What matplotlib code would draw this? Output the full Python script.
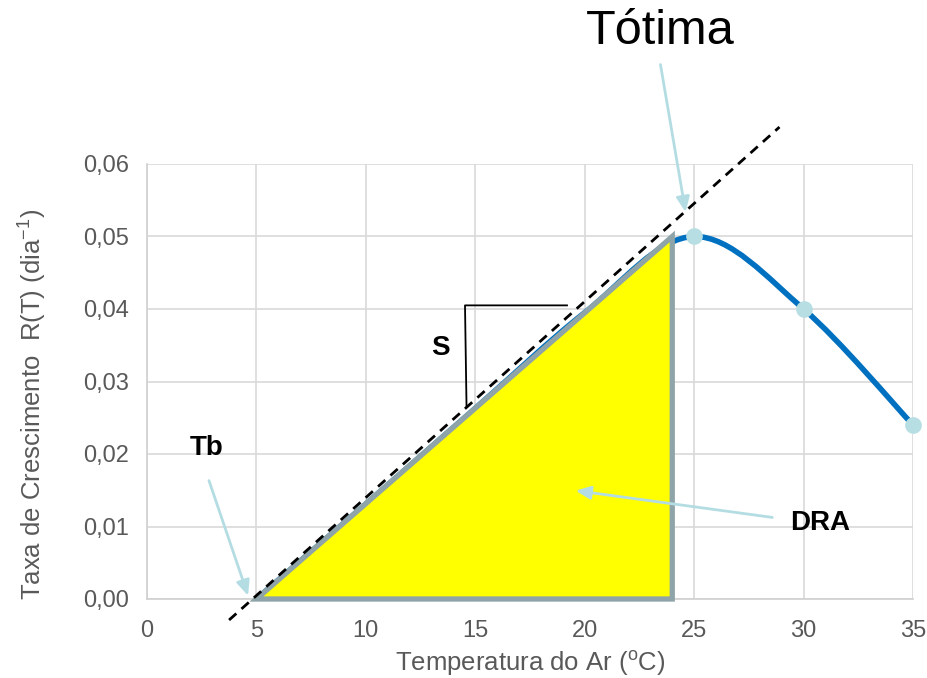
import matplotlib
matplotlib.use("Agg")
import matplotlib.pyplot as plt
from matplotlib.path import Path
from matplotlib.patches import PathPatch, Polygon
import numpy as np

plt.rcParams['font.family'] = ['Liberation Sans', 'DejaVu Sans']
plt.rcParams['mathtext.fontset'] = 'custom'
plt.rcParams['mathtext.rm'] = 'Liberation Sans'
plt.rcParams['mathtext.it'] = 'Liberation Sans:italic'

# data
curve_x = [5, 10, 15, 20, 25, 30, 35]
curve_y = [0.0, 0.0131, 0.0263, 0.0395, 0.050, 0.040, 0.024]
marker_x = [25, 30, 35]
marker_y = [0.050, 0.040, 0.024]
tri_x = [5, 24, 24]
tri_y = [0.0, 0.05, 0.0]
dash_x = [3.75, 28.9]
dash_y = [-0.0029, 0.0651]
x_ticks = [0, 5, 10, 15, 20, 25, 30, 35]
y_ticks = [0.0, 0.01, 0.02, 0.03, 0.04, 0.05, 0.06]
y_tick_labels = ['0,00', '0,01', '0,02', '0,03', '0,04', '0,05', '0,06']

fig = plt.figure(figsize=(9.27, 6.78), dpi=100)
ax = fig.add_axes([147/927, 1-599/678, (913-147)/927, (599-164)/678])
ax.set_xlim(0, 35)
ax.set_ylim(0, 0.06)
ax.set_xticks(x_ticks)
ax.set_xticklabels([str(v) for v in x_ticks])
ax.set_yticks(y_ticks)
ax.set_yticklabels(y_tick_labels)
ax.tick_params(length=0, labelsize=17, colors='#595959')
ax.tick_params(axis='y', pad=13)
ax.tick_params(axis='x', pad=15)
ax.grid(True, color='#d9d9d9', lw=1.2, zorder=0)
ax.set_axisbelow(True)
for s in ['top', 'right']:
    ax.spines[s].set_visible(False)
for s in ['left', 'bottom']:
    ax.spines[s].set_color('#d0d0d0')
    ax.spines[s].set_linewidth(1.2)

# smooth curve (Excel-like Bezier through points)
pts = np.column_stack([curve_x, curve_y]).astype(float)
verts = [tuple(pts[0])]
codes = [Path.MOVETO]
n = len(pts)
for i in range(n - 1):
    p0 = pts[i - 1] if i > 0 else pts[i]
    p1 = pts[i]
    p2 = pts[i + 1]
    p3 = pts[i + 2] if i + 2 < n else pts[i + 1]
    c1 = p1 + (p2 - p0) / 6.0
    c2 = p2 - (p3 - p1) / 6.0
    verts += [tuple(c1), tuple(c2), tuple(p2)]
    codes += [Path.CURVE4] * 3
ax.add_patch(PathPatch(Path(verts, codes), fill=False, edgecolor='#0070c0', lw=4, zorder=2, capstyle='round'))

# triangle
ax.add_patch(Polygon(np.column_stack([tri_x, tri_y]), closed=True, facecolor='#ffff00',
                     edgecolor='#8fa4a8', lw=3.8, zorder=3, joinstyle='miter', clip_on=False))

# dashed line
ax.plot(dash_x, dash_y, ls=(0, (3.5, 2.5)), color='black', lw=2, zorder=4, clip_on=False)

# markers
ax.plot(marker_x, marker_y, 'o', ms=11, color='#b7dee3', mec='#b7dee3', zorder=5, clip_on=False)

arrow_kw = dict(arrowstyle='-|>,head_length=0.9,head_width=0.4', color='#b4dde3', lw=2)

# Tótima
fig.text(660/927, 1-32/678, 'Tótima', fontsize=35, ha='center', va='center', color='black')
ax.annotate('', xy=(24.63, 0.0530), xytext=(23.44, 0.0741), arrowprops=arrow_kw, annotation_clip=False, zorder=6)

# Tb
ax.text(2.74, 0.0208, 'Tb', fontsize=20, fontweight='bold', ha='center', va='center')
ax.annotate('', xy=(4.66, 0.0001), xytext=(2.79, 0.0167), arrowprops=arrow_kw, annotation_clip=False, zorder=6)

# DRA
ax.text(30.75, 0.0105, 'DRA', fontsize=20, fontweight='bold', ha='center', va='center')
ax.annotate('', xy=(19.46, 0.0150), xytext=(28.7, 0.0112), arrowprops=arrow_kw, annotation_clip=False, zorder=6)

# S bracket
ax.text(13.43, 0.0346, 'S', fontsize=20, fontweight='bold', ha='center', va='center')
ax.plot([14.6, 14.53, 19.19], [0.0265, 0.0405, 0.0405], color='black', lw=1.3, zorder=6)

fig.text(530/927, 1-663/678, 'Temperatura do Ar ($^{\\mathrm{o}}$C)', fontsize=18.5, color='#595959',
         ha='center', va='center')
fig.text(33/927, 1-404/678, 'Taxa de Crescimento  R(T) (dia$^{\\mathrm{-1}}$)', fontsize=18.5,
         color='#595959', ha='center', va='center', rotation=90)

fig.savefig('out.png', dpi=100)
